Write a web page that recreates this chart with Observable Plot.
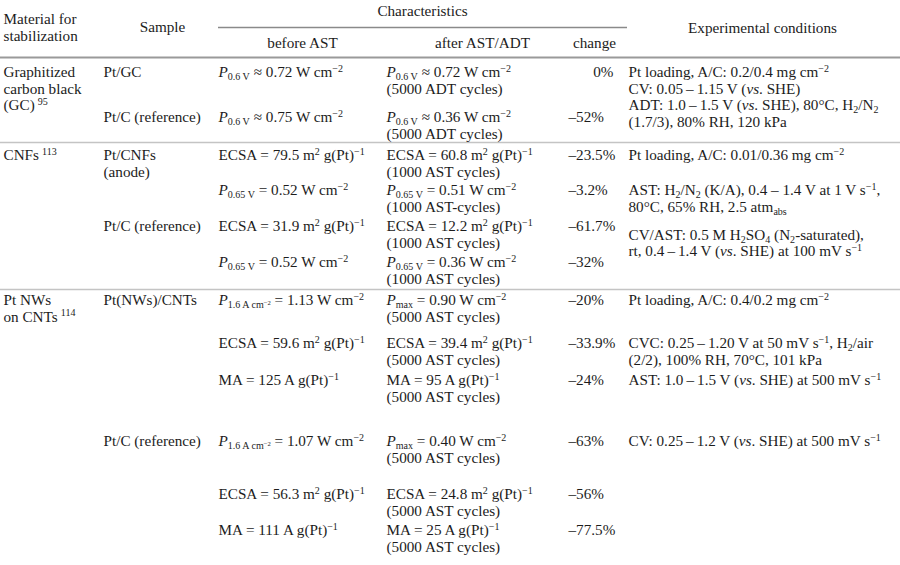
<!DOCTYPE html>
<html>
<head>
<meta charset="utf-8">
<script src="https://cdn.jsdelivr.net/npm/d3@7"></script>
<script src="https://cdn.jsdelivr.net/npm/@observablehq/plot@0.6"></script>
<style>
  html, body { margin: 0; padding: 0; background: #fff; }
  #chart svg { display: block; }
</style>
</head>
<body>
<div id="chart"></div>
<script>
// ---------- DATA ----------
const headerMaterial = "Material for\nstabilization";
const headerSample = "Sample";
const headerCharacteristics = "Characteristics";
const headerSub = ["before AST", "after AST/ADT", "change"];
const headerConditions = "Experimental conditions";

const materialText = [
  "Graphitized\ncarbon black\n(GC)\u2009^{95}",
  "CNFs\u2009^{113}",
  "Pt NWs\non CNTs\u2009^{114}"
];
const rowGroup = [0, 0, 1, 1, 1, 1, 2, 2, 2, 2, 2, 2];
const sampleText = [
  "Pt/GC", "Pt/C (reference)",
  "Pt/CNFs\n(anode)", "", "Pt/C (reference)", "",
  "Pt(NWs)/CNTs", "", "", "Pt/C (reference)", "", ""
];
const beforeText = [
  "*P*_{0.6 V} \u2248 0.72 W cm^{\u22122}",
  "*P*_{0.6 V} \u2248 0.75 W cm^{\u22122}",
  "ECSA = 79.5 m^{2} g(Pt)^{\u22121}",
  "*P*_{0.65 V} = 0.52 W cm^{\u22122}",
  "ECSA = 31.9 m^{2} g(Pt)^{\u22121}",
  "*P*_{0.65 V} = 0.52 W cm^{\u22122}",
  "*P*_{1.6 A cm^{\u22122}} = 1.13 W cm^{\u22122}",
  "ECSA = 59.6 m^{2} g(Pt)^{\u22121}",
  "MA = 125 A g(Pt)^{\u22121}",
  "*P*_{1.6 A cm^{\u22122}} = 1.07 W cm^{\u22122}",
  "ECSA = 56.3 m^{2} g(Pt)^{\u22121}",
  "MA = 111 A g(Pt)^{\u22121}"
];
const afterText = [
  "*P*_{0.6 V} \u2248 0.72 W cm^{\u22122}\n(5000 ADT cycles)",
  "*P*_{0.6 V} \u2248 0.36 W cm^{\u22122}\n(5000 ADT cycles)",
  "ECSA = 60.8 m^{2} g(Pt)^{\u22121}\n(1000 AST cycles)",
  "*P*_{0.65 V} = 0.51 W cm^{\u22122}\n(1000 AST-cycles)",
  "ECSA = 12.2 m^{2} g(Pt)^{\u22121}\n(1000 AST cycles)",
  "*P*_{0.65 V} = 0.36 W cm^{\u22122}\n(1000 AST cycles)",
  "*P*_{max} = 0.90 W cm^{\u22122}\n(5000 AST cycles)",
  "ECSA = 39.4 m^{2} g(Pt)^{\u22121}\n(5000 AST cycles)",
  "MA = 95 A g(Pt)^{\u22121}\n(5000 AST cycles)",
  "*P*_{max} = 0.40 W cm^{\u22122}\n(5000 AST cycles)",
  "ECSA = 24.8 m^{2} g(Pt)^{\u22121}\n(5000 AST cycles)",
  "MA = 25 A g(Pt)^{\u22121}\n(5000 AST cycles)"
];
const changeText = ["0%", "\u201352%", "\u201323.5%", "\u20133.2%", "\u201361.7%", "\u201332%",
  "\u201320%", "\u201333.9%", "\u201324%", "\u201363%", "\u201356%", "\u201377.5%"];

const conditionRow = [0, 2, 3, 4, 6, 7, 8, 9];
const conditionText = [
  "Pt loading, A/C: 0.2/0.4 mg cm^{\u22122}\nCV: 0.05\u2009\u2013\u20091.15 V (*vs*. SHE)\nADT: 1.0\u2009\u2013\u20091.5 V (*vs*. SHE), 80\u00b0C, H_{2}/N_{2}\n(1.7/3), 80% RH, 120 kPa",
  "Pt loading, A/C: 0.01/0.36 mg cm^{\u22122}",
  "AST: H_{2}/N_{2} (K/A), 0.4 \u2013 1.4 V at 1 V s^{\u22121},\n80\u00b0C, 65% RH, 2.5 atm_{abs}",
  "CV/AST: 0.5 M H_{2}SO_{4} (N_{2}-saturated),\nrt, 0.4\u2009\u2013\u20091.4 V (*vs*. SHE) at 100 mV s^{\u22121}",
  "Pt loading, A/C: 0.4/0.2 mg cm^{\u22122}",
  "CVC: 0.25\u2009\u2013\u20091.20 V at 50 mV s^{\u22121}, H_{2}/air\n(2/2), 100% RH, 70\u00b0C, 101 kPa",
  "AST: 1.0\u2009\u2013\u20091.5 V (*vs*. SHE) at 500 mV s^{\u22121}",
  "CV: 0.25\u2009\u2013\u20091.2 V (*vs*. SHE) at 500 mV s^{\u22121}"
];

// ---------- LAYOUT ----------
const W = 900, H = 565, FS = 15.2, LH = 16.5;
const colX = {material: 3, sample: 103, before: 218, after: 386, change: 568, changeEnd: 613, cond: 628};
const headerY = {characteristics: 11, characteristicsRule: 27, material: 19, sample: 27, sub: 43, conditions: 28, rule: 57};
const headerCenters = {sample: 162, characteristics: 422, sub: [302, 482, 594], conditions: 762};
const charRuleX = [218, 627];
const rowY = [72, 117, 155, 190, 226, 262, 300, 343, 380, 441, 494, 530];
const conditionOffset = {3: 0.5};
const groupRuleY = [142, 289];

// ---------- BUILD CELLS ----------
const startCells = [];   // text-anchor start
const middleCells = [];  // text-anchor middle
const endCells = [];     // text-anchor end
function addLines(arr, text, x, y0) {
  text.split("\n").forEach((t, i) => { if (t) arr.push({x, y: y0 + i * LH, text: t}); });
}
// header
addLines(startCells, headerMaterial, colX.material, headerY.material);
addLines(middleCells, headerSample, headerCenters.sample, headerY.sample);
addLines(middleCells, headerCharacteristics, headerCenters.characteristics, headerY.characteristics);
headerSub.forEach((t, i) => addLines(middleCells, t, headerCenters.sub[i], headerY.sub));
addLines(middleCells, headerConditions, headerCenters.conditions, headerY.conditions);
// body
materialText.forEach((t, g) => addLines(startCells, t, colX.material, rowY[rowGroup.indexOf(g)]));
sampleText.forEach((t, r) => addLines(startCells, t, colX.sample, rowY[r]));
beforeText.forEach((t, r) => addLines(startCells, t, colX.before, rowY[r]));
afterText.forEach((t, r) => addLines(startCells, t, colX.after, rowY[r]));
changeText.forEach((t, r) => {
  if (t.startsWith("\u2013")) addLines(startCells, t, colX.change, rowY[r]);
  else addLines(endCells, t, colX.changeEnd, rowY[r]);
});
conditionText.forEach((t, k) => addLines(startCells, t, colX.cond, rowY[conditionRow[k]] + (conditionOffset[k] || 0) * LH));

const rules = [
  {x1: 0, x2: W, y: headerY.rule, stroke: "#9a9a9a", w: 2},
  {x1: charRuleX[0], x2: charRuleX[1], y: headerY.characteristicsRule, stroke: "#8a8a8a", w: 1.4},
  ...groupRuleY.map(y => ({x1: 0, x2: W, y, stroke: "#c4c4c4", w: 1.6}))
];

const textOpts = {fontSize: FS, lineAnchor: "middle", fill: "#1c1c1c"};
const chart = Plot.plot({
  width: W, height: H,
  margin: 0,
  x: {type: "identity", axis: null},
  y: {type: "identity", axis: null},
  style: {fontFamily: "'Liberation Serif', 'Times New Roman', serif", background: "#fff"},
  marks: [
    ...rules.map(r => Plot.ruleY([r], {x1: "x1", x2: "x2", y: "y", stroke: r.stroke, strokeWidth: r.w})),
    Plot.text(startCells, {x: "x", y: "y", text: "text", textAnchor: "start", ...textOpts}),
    Plot.text(middleCells, {x: "x", y: "y", text: "text", textAnchor: "middle", ...textOpts}),
    Plot.text(endCells, {x: "x", y: "y", text: "text", textAnchor: "end", ...textOpts})
  ]
});

// ---------- RICH TEXT (sub/superscripts, italics) ----------
function parseMarkup(s, base) {
  const out = [];
  let i = 0, buf = "";
  const flush = () => { if (buf) { out.push({text: buf, ...base}); buf = ""; } };
  while (i < s.length) {
    const c = s[i];
    if ((c === "_" || c === "^") && s[i + 1] === "{") {
      flush();
      let depth = 0, j = i + 1;
      for (; j < s.length; j++) {
        if (s[j] === "{") depth++;
        else if (s[j] === "}") { depth--; if (depth === 0) break; }
      }
      const inner = s.slice(i + 2, j);
      const size = base.size * 0.66;
      const shift = base.shift + (c === "_" ? base.size * 0.2 : -base.size * 0.36);
      out.push(...parseMarkup(inner, {shift, size, italic: base.italic}));
      i = j + 1;
    } else if (c === "*") {
      flush();
      const j = s.indexOf("*", i + 1);
      out.push(...parseMarkup(s.slice(i + 1, j), {...base, italic: true}));
      i = j + 1;
    } else { buf += c; i++; }
  }
  flush();
  return out;
}
const NS = "http://www.w3.org/2000/svg";
chart.querySelectorAll("text").forEach(el => {
  const raw = el.textContent;
  if (!/[_^*]/.test(raw)) return;
  const segs = parseMarkup(raw, {shift: 0, size: FS, italic: false});
  while (el.firstChild) el.removeChild(el.firstChild);
  let cur = 0;
  segs.forEach(sg => {
    const t = document.createElementNS(NS, "tspan");
    t.textContent = sg.text;
    t.setAttribute("font-size", sg.size.toFixed(2));
    if (sg.italic) t.setAttribute("font-style", "italic");
    const dy = sg.shift - cur;
    if (dy !== 0) t.setAttribute("dy", dy.toFixed(2));
    cur = sg.shift;
    el.appendChild(t);
  });
});

document.getElementById("chart").appendChild(chart);
</script>
</body>
</html>
